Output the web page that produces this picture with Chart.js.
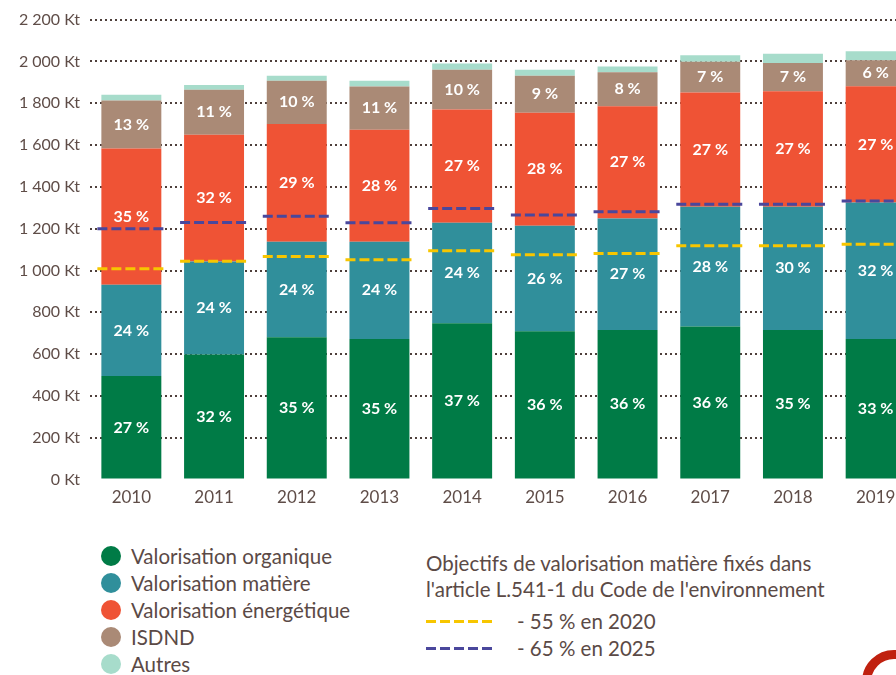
<!DOCTYPE html>
<html lang="fr">
<head>
<meta charset="utf-8">
<script src="https://cdn.jsdelivr.net/npm/chart.js@4.4.0/dist/chart.umd.min.js"></script>
<style>
  html, body { margin: 0; padding: 0; background: #fff; overflow: hidden; width: 896px; height: 675px; }
  body { position: relative; font-family: Lato, sans-serif; color: #5b4a46; }
  #wrap { position: absolute; left: 0; top: 0; width: 917px; height: 521px; }
  .leg { position: absolute; font-size: 20.5px; line-height: 24px; white-space: nowrap; }
  .leg .dot { position: absolute; left: 0; top: 2px; width: 20px; height: 20px; border-radius: 50%; }
  .leg span.txt { position: absolute; left: 30px; top: 0; }
  .dash { position: absolute; width: 67px; height: 3px; }
  #logo { position: absolute; left: 862px; top: 650px; width: 64px; height: 64px; box-sizing: border-box;
          border: 9px solid #c0210f; border-radius: 50%; }
</style>
</head>
<body>
<div id="wrap"><canvas id="chart_dechets"></canvas></div>
<div id="legend"></div>
<div id="logo"></div>
<script>
const years = ['2010', '2011', '2012', '2013', '2014', '2015', '2016', '2017', '2018', '2019'];

// tonnages (Kt)
const organique   = [495, 598, 681, 673, 748, 710, 716, 732, 716, 673];
const matiere     = [437, 445, 457, 465, 481, 504, 533, 573, 589, 652];
const energetique = [652, 606, 563, 535, 541, 540, 537, 546, 552, 556];
const isdnd       = [229, 216, 207, 207, 190, 178, 162, 148, 135, 124];
const autres      = [28, 22, 24, 28, 30, 28, 28, 31, 45, 44];

// percentages printed on the bars
const pctOrganique   = [27, 32, 35, 35, 37, 36, 36, 36, 35, 33];
const pctMatiere     = [24, 24, 24, 24, 24, 26, 27, 28, 30, 32];
const pctEnergetique = [35, 32, 29, 28, 27, 28, 27, 27, 27, 27];
const pctIsdnd       = [13, 11, 10, 11, 10, 9, 8, 7, 7, 6];

// objectifs de valorisation matière (Kt)
const objectif2020 = [1008, 1044, 1067, 1051, 1095, 1075, 1081, 1118, 1118, 1125];
const objectif2025 = [1200, 1230, 1259, 1229, 1297, 1265, 1281, 1317, 1317, 1332];

const seriesNames  = ['Valorisation organique', 'Valorisation matière', 'Valorisation énergétique', 'ISDND', 'Autres'];
const seriesColors = ['#007b46', '#308f9b', '#ef5335', '#aa8a76', '#a7dccb'];
const objectifNames  = ['- 55 % en 2020', '- 65 % en 2025'];
const objectifColors = ['#f7c600', '#4a479c'];

const textColor = '#5f4d48';

const formatKt = v => String(v).replace(/\B(?=(\d{3})+(?!\d))/g, ' ') + ' Kt';

const percentLabels = {
  id: 'percentLabels',
  afterDatasetsDraw(chart) {
    let ctx = chart.ctx;
    ctx.save();
    ctx.font = "bold 16px Lato, sans-serif";
    ctx.fillStyle = '#ffffff';
    ctx.textAlign = 'center';
    ctx.textBaseline = 'middle';
    chart.data.datasets.forEach((ds, i) => {
      if (!ds.pct) return;
      chart.getDatasetMeta(i).data.forEach((bar, j) => {
        ctx.fillText(ds.pct[j] + ' %', bar.x, (bar.y + bar.base) / 2);
      });
    });
    ctx.restore();
  }
};

const objectifLines = {
  id: 'objectifLines',
  afterDatasetsDraw(chart) {
    let ctx = chart.ctx,
        y = chart.scales.y,
        bars = chart.getDatasetMeta(0).data;
    ctx.save();
    ctx.lineWidth = 3;
    ctx.setLineDash([10, 4]);
    [objectif2020, objectif2025].forEach((values, k) => {
      ctx.strokeStyle = objectifColors[k];
      values.forEach((v, j) => {
        let bar = bars[j], py = y.getPixelForValue(v), half = bar.width / 2 + 4;
        ctx.beginPath();
        ctx.moveTo(bar.x - half, py);
        ctx.lineTo(bar.x + half, py);
        ctx.stroke();
      });
    });
    ctx.restore();
  }
};

let values = [organique, matiere, energetique, isdnd, autres];
let pcts = [pctOrganique, pctMatiere, pctEnergetique, pctIsdnd, null];

let data = {
  labels: years,
  datasets: values.map((v, i) => ({
    label: seriesNames[i],
    data: v,
    pct: pcts[i],
    backgroundColor: seriesColors[i],
    borderWidth: 0,
    categoryPercentage: 0.725,
    barPercentage: 1
  }))
};

let options = {
  responsive: true,
  maintainAspectRatio: false,
  animation: false,
  layout: { padding: { top: 17, right: 0, bottom: 13, left: 0 } },
  plugins: { legend: { display: false }, tooltip: { enabled: false } },
  scales: {
    x: {
      stacked: true,
      grid: { display: false },
      border: { display: false },
      ticks: { color: textColor, font: { family: 'Lato', size: 17 }, padding: 0 }
    },
    y: {
      stacked: true,
      min: 0,
      max: 2200,
      afterFit: scale => { scale.width = 90; },
      border: { display: false, dash: [2, 3] },
      grid: {
        drawTicks: false,
        lineWidth: 2,
        color: ctx => ctx.tick && ctx.tick.value === 0 ? 'rgba(0,0,0,0)' : '#4e3f3b'
      },
      ticks: {
        stepSize: 200,
        color: textColor,
        font: { family: 'Lato', size: 16 },
        padding: 10,
        callback: v => formatKt(v)
      }
    }
  }
};

new Chart('chart_dechets', { type: 'bar', data, options, plugins: [objectifLines, percentLabels] });

// legend
let legend = document.getElementById('legend');
let rowsY = [544, 571, 598, 625, 652];
seriesNames.forEach((name, i) => {
  let el = document.createElement('div');
  el.className = 'leg';
  el.style.left = '101px';
  el.style.top = rowsY[i] + 'px';
  el.innerHTML = '<span class="dot" style="background:' + seriesColors[i] + '"></span><span class="txt">' + name + '</span>';
  legend.appendChild(el);
});

let title = document.createElement('div');
title.className = 'leg';
title.style.left = '426px';
title.style.top = '550px';
title.style.lineHeight = '26px';
title.innerHTML = "Objectifs de valorisation matière fixés dans<br>l'article L.541-1 du Code de l'environnement";
legend.appendChild(title);

objectifNames.forEach((name, i) => {
  let top = 609 + i * 27;
  let d = document.createElement('div');
  d.className = 'dash';
  d.style.left = '426px';
  d.style.top = (top + 11) + 'px';
  d.style.background = 'repeating-linear-gradient(90deg, ' + objectifColors[i] + ' 0 10px, transparent 10px 14px)';
  legend.appendChild(d);
  let t = document.createElement('div');
  t.className = 'leg';
  t.style.left = '517px';
  t.style.top = top + 'px';
  t.textContent = name;
  legend.appendChild(t);
});
</script>
</body>
</html>
